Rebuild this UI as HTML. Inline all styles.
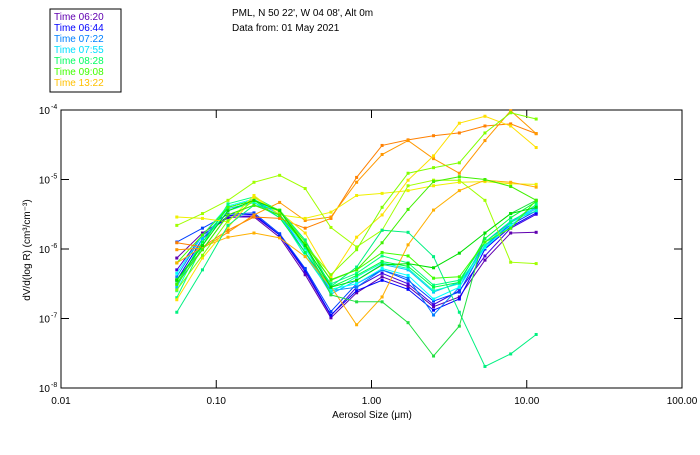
<!DOCTYPE html>
<html><head><meta charset="utf-8"><style>
html,body{margin:0;padding:0;background:#fff;}
body{width:700px;height:450px;overflow:hidden;font-family:"Liberation Sans",sans-serif;}
svg text{font-family:"Liberation Sans",sans-serif;font-size:10px;}
</style></head><body>
<svg id="chart" width="700" height="450" viewBox="0 0 700 450" xmlns="http://www.w3.org/2000/svg">
<rect x="0" y="0" width="700" height="450" fill="#fff"/>
<g>
<rect x="50" y="9" width="71" height="83" fill="none" stroke="#000" stroke-width="1"/>
<text x="54" y="20" fill="#6000b0">Time 06:20</text>
<text x="54" y="31" fill="#0000ff">Time 06:44</text>
<text x="54" y="42" fill="#0080ff">Time 07:22</text>
<text x="54" y="53" fill="#00e0ff">Time 07:55</text>
<text x="54" y="64" fill="#00ff60">Time 08:28</text>
<text x="54" y="75" fill="#40ff00">Time 09:08</text>
<text x="54" y="86" fill="#ffc000">Time 13:22</text>
</g>
<text x="232" y="16">PML, N 50 22', W 04 08', Alt 0m</text>
<text x="232" y="31">Data from: 01 May 2021</text>
<g id="axes"></g>
<g id="series"></g>
<text x="372" y="418" text-anchor="middle">Aerosol Size (μm)</text>
<text transform="translate(30,250) rotate(-90)" text-anchor="middle">dV/d(log R) (cm³/cm⁻³)</text>
</svg>
<script>
const sizes = [0.0557,0.0815,0.119,0.175,0.256,0.374,0.548,0.802,1.17,1.72,2.51,3.68,5.38,7.88,11.5];
const xTickValues = [0.01,0.1,1,10,100];
const xTickLabels = ["0.01","0.10","1.00","10.00","100.00"];
const yTickExponents = [-4,-5,-6,-7,-8];
const seriesColors = ["#6000b0","#4000e0","#0000ff","#0040ff","#0080ff","#00c0ff","#00ffff","#00ffc0","#00ff80","#00ff40","#40ff00",
"#ff8000","#ff9800","#f0f000","#ffb000","#a0ff00","#ffe000","#00f080","#20e040","#80ff00","#40f000","#00e000"];
// log10 of dV/d(log R)
const seriesLogValues = [
[-6.13,-5.77,-5.54,-5.54,-5.83,-6.37,-6.99,-6.63,-6.40,-6.54,-6.83,-6.69,-6.16,-5.77,-5.76],
[-6.30,-5.80,-5.55,-5.52,-5.80,-6.33,-6.96,-6.55,-6.35,-6.50,-6.80,-6.60,-6.10,-5.70,-5.50],
[-6.45,-5.85,-5.52,-5.50,-5.80,-6.30,-6.95,-6.60,-6.45,-6.58,-6.88,-6.72,-6.00,-5.68,-5.48],
[-5.90,-5.70,-5.50,-5.48,-5.78,-6.28,-6.90,-6.50,-6.30,-6.45,-6.75,-6.62,-5.95,-5.65,-5.45],
[-6.40,-5.80,-5.40,-5.30,-5.50,-6.05,-6.60,-6.55,-6.30,-6.42,-6.95,-6.55,-5.90,-5.60,-5.40],
[-6.55,-5.85,-5.42,-5.33,-5.55,-6.05,-6.65,-6.45,-6.22,-6.30,-6.62,-6.48,-5.98,-5.62,-5.42],
[-6.35,-5.80,-5.38,-5.28,-5.50,-6.00,-6.58,-6.50,-6.28,-6.38,-6.72,-6.55,-5.98,-5.66,-5.38],
[-6.60,-5.90,-5.45,-5.33,-5.52,-6.10,-6.62,-6.40,-6.20,-6.28,-6.60,-6.50,-5.95,-5.60,-5.45],
[-6.70,-5.95,-5.35,-5.25,-5.45,-5.98,-6.50,-6.35,-6.10,-6.20,-6.52,-6.45,-5.90,-5.62,-5.36],
[-6.50,-5.90,-5.40,-5.30,-5.55,-6.05,-6.55,-6.38,-6.18,-6.25,-6.55,-6.48,-5.85,-5.55,-5.32],
[-6.20,-5.80,-5.40,-5.30,-5.45,-5.90,-6.45,-6.30,-6.05,-6.10,-6.42,-6.40,-5.90,-5.70,-5.30],
[-5.91,-5.97,-5.73,-5.54,-5.56,-5.70,-5.56,-4.97,-4.51,-4.43,-4.37,-4.33,-4.23,-4.20,-4.34],
[-6.01,-5.99,-5.76,-5.51,-5.33,-5.59,-5.54,-5.04,-4.64,-4.44,-4.70,-4.91,-4.44,-4.01,-4.34],
[-5.54,-5.56,-5.61,-5.23,-5.51,-5.56,-5.47,-5.23,-5.20,-5.16,-5.09,-5.04,-5.03,-5.06,-5.07],
[-6.20,-5.97,-5.83,-5.77,-5.84,-6.11,-6.54,-7.09,-6.69,-5.94,-5.44,-5.16,-5.01,-5.04,-5.11],
[-5.66,-5.49,-5.30,-5.04,-4.94,-5.13,-5.69,-5.97,-5.73,-5.09,-5.01,-5.01,-5.30,-6.19,-6.21],
[-6.73,-6.13,-5.69,-5.26,-5.47,-5.77,-6.40,-5.83,-5.51,-5.01,-4.66,-4.19,-4.09,-4.23,-4.54],
[-6.91,-6.30,-5.66,-5.37,-5.44,-5.87,-6.54,-6.26,-5.73,-5.76,-6.11,-6.91,-7.69,-7.51,-7.23],
[-6.44,-6.01,-5.51,-5.37,-5.51,-5.94,-6.66,-6.76,-6.76,-7.06,-7.54,-7.11,-5.77,-5.49,-5.30],
[-6.59,-6.09,-5.59,-5.30,-5.44,-5.94,-6.37,-6.01,-5.40,-4.91,-4.83,-4.76,-4.33,-4.04,-4.13],
[-6.51,-6.01,-5.51,-5.37,-5.51,-5.94,-6.44,-6.30,-5.91,-5.43,-5.03,-4.96,-5.00,-5.10,-5.30],
[-6.45,-5.95,-5.45,-5.30,-5.45,-5.95,-6.55,-6.45,-6.23,-6.21,-6.27,-6.06,-5.77,-5.49,-5.40]
];
const NS='http://www.w3.org/2000/svg';
const X0=61,X1=682,Y0=110,Y1=388;
function xScale(v){return X0+(Math.log10(v)+2)/4*(X1-X0);}
function yScale(e){return Y0+(-4-e)/4*(Y1-Y0);}
function mk(tag,attrs,parent){const el=document.createElementNS(NS,tag);for(const k in attrs)el.setAttribute(k,attrs[k]);parent.appendChild(el);return el;}
const axes=document.getElementById('axes');
const frame=mk('rect',{x:X0,y:Y0,width:X1-X0,height:Y1-Y0,fill:'none',stroke:'#000','stroke-width':1},axes);


xTickValues.forEach((v,i)=>{
  const x=xScale(v);
  if(i>0&&i<xTickValues.length-1){
    const t1=mk('line',{x1:x,y1:Y1,x2:x,y2:Y1-8,stroke:'#000'},axes);
    
    
    const t2=mk('line',{x1:x,y1:Y0,x2:x,y2:Y0+8,stroke:'#000'},axes);
    
    
  }
  const lb=mk('text',{x:x,y:404,'text-anchor':'middle'},axes);
  lb.textContent=xTickLabels[i];
  
  
});
yTickExponents.forEach((e,i)=>{
  const y=yScale(e);
  if(i>0&&i<yTickExponents.length-1){
    const t1=mk('line',{x1:X0,y1:y,x2:X0+8,y2:y,stroke:'#000'},axes);
    
    
    const t2=mk('line',{x1:X1,y1:y,x2:X1-8,y2:y,stroke:'#000'},axes);
    
    
  }
  const lb=mk('text',{x:50,y:y+4,'text-anchor':'end'},axes);
  lb.textContent='10';
  
  
  const sp=mk('text',{x:51,y:y-1,'font-size':'7'},axes);
  sp.setAttribute('style','font-size:7px');
  sp.textContent=String(e);
  
  
});
const sg=document.getElementById('series');
seriesLogValues.forEach((vals,si)=>{
  const g=mk('g',{},sg);
  
  
  const pts=vals.map((v,i)=>xScale(sizes[i]).toFixed(1)+','+yScale(v).toFixed(1)).join(' ');
  const pl=mk('polyline',{points:pts,fill:'none',stroke:seriesColors[si],'stroke-width':1},g);
  
  
  vals.forEach((v,i)=>{
    const r=mk('rect',{x:xScale(sizes[i])-1.5,y:yScale(v)-1.5,width:3,height:3,fill:seriesColors[si]},g);
    
    
  });
});
</script>
</body></html>
